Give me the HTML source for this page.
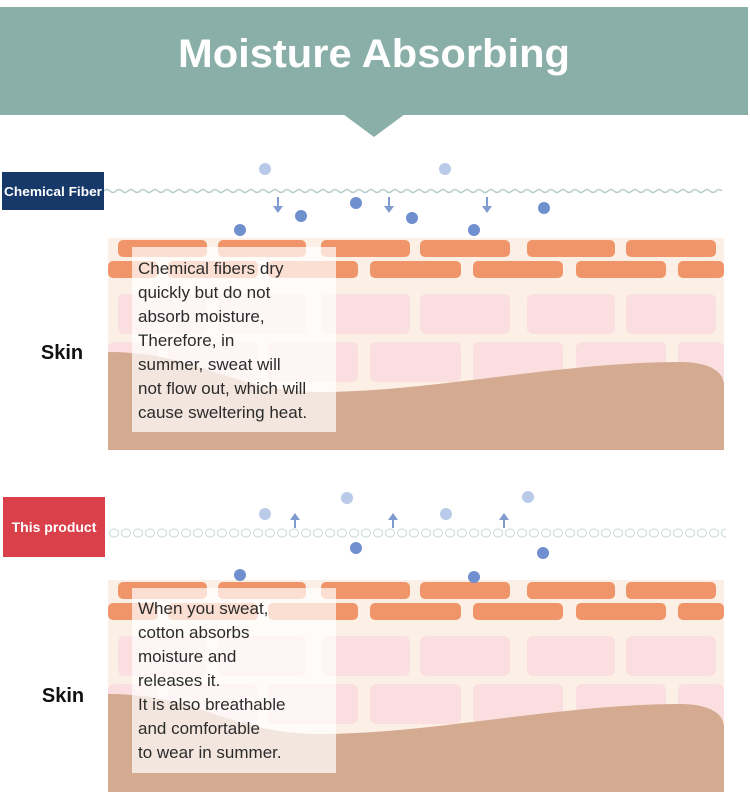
<!DOCTYPE html>
<html><head><meta charset="utf-8"><style>
html,body{margin:0;padding:0;background:#fff;width:750px;height:807px;overflow:hidden}
svg{display:block}
</style></head><body>
<svg width="750" height="807" viewBox="0 0 750 807" xmlns="http://www.w3.org/2000/svg">
<defs>
<pattern id="chain" x="108" y="527" width="12" height="12" patternUnits="userSpaceOnUse">
<ellipse cx="6" cy="6" rx="4.5" ry="4" fill="none" stroke="#c6d8d8" stroke-width="1"/>
</pattern>
<g id="skin">
<rect x="108" y="238" width="616" height="212" fill="#fcf0e6"/>
<g fill="#fbdfe0">
<rect x="118" y="294" width="89" height="40" rx="6"/><rect x="218" y="294" width="88" height="40" rx="6"/><rect x="321" y="294" width="89" height="40" rx="6"/><rect x="420" y="294" width="90" height="40" rx="6"/><rect x="527" y="294" width="88" height="40" rx="6"/><rect x="626" y="294" width="90" height="40" rx="6"/>
<rect x="108" y="342" width="50" height="40" rx="6"/><rect x="168" y="342" width="90" height="40" rx="6"/><rect x="268" y="342" width="90" height="40" rx="6"/><rect x="370" y="342" width="91" height="40" rx="6"/><rect x="473" y="342" width="90" height="40" rx="6"/><rect x="576" y="342" width="90" height="40" rx="6"/><rect x="678" y="342" width="46" height="40" rx="6"/>
</g>
<g fill="#ef9569">
<rect x="118" y="240" width="89" height="17" rx="5"/><rect x="218" y="240" width="88" height="17" rx="5"/><rect x="321" y="240" width="89" height="17" rx="5"/><rect x="420" y="240" width="90" height="17" rx="5"/><rect x="527" y="240" width="88" height="17" rx="5"/><rect x="626" y="240" width="90" height="17" rx="5"/>
<rect x="108" y="261" width="50" height="17" rx="5"/><rect x="168" y="261" width="90" height="17" rx="5"/><rect x="268" y="261" width="90" height="17" rx="5"/><rect x="336" y="261" width="21" height="17" rx="5"/><rect x="370" y="261" width="91" height="17" rx="5"/><rect x="473" y="261" width="90" height="17" rx="5"/><rect x="576" y="261" width="90" height="17" rx="5"/><rect x="678" y="261" width="46" height="17" rx="5"/>
</g>
<path d="M108,352 C200,352 230,392 320,392 C430,392 560,362 680,362 C710,362 724,372 724,385 L724,450 L108,450 Z" fill="#d4aa90"/>
</g>
</defs>

<rect x="0" y="7" width="748" height="108" fill="#8aafa8"/>
<polygon points="343,114 405,114 374,137" fill="#8aafa8"/>
<text x="374" y="67" text-anchor="middle" font-family="Liberation Sans, sans-serif" font-weight="bold" font-size="40" fill="#fff" textLength="392" lengthAdjust="spacingAndGlyphs">Moisture Absorbing</text>

<use href="#skin"/>
<path d="M104,191 q3,-3 6,0 t6,0 t6,0 t6,0 t6,0 t6,0 t6,0 t6,0 t6,0 t6,0 t6,0 t6,0 t6,0 t6,0 t6,0 t6,0 t6,0 t6,0 t6,0 t6,0 t6,0 t6,0 t6,0 t6,0 t6,0 t6,0 t6,0 t6,0 t6,0 t6,0 t6,0 t6,0 t6,0 t6,0 t6,0 t6,0 t6,0 t6,0 t6,0 t6,0 t6,0 t6,0 t6,0 t6,0 t6,0 t6,0 t6,0 t6,0 t6,0 t6,0 t6,0 t6,0 t6,0 t6,0 t6,0 t6,0 t6,0 t6,0 t6,0 t6,0 t6,0 t6,0 t6,0 t6,0 t6,0 t6,0 t6,0 t6,0 t6,0 t6,0 t6,0 t6,0 t6,0 t6,0 t6,0 t6,0 t6,0 t6,0 t6,0 t6,0 t6,0 t6,0 t6,0 t6,0 t6,0 t6,0 t6,0 t6,0 t6,0 t6,0 t6,0 t6,0 t6,0 t6,0 t6,0 t6,0 t6,0 t6,0 t6,0 t6,0 t6,0 t6,0 t6,0" fill="none" stroke="#b5cccc" stroke-width="1.5"/>
<rect x="2" y="172" width="102" height="38" fill="#17396a"/>
<text x="53" y="196" text-anchor="middle" font-family="Liberation Sans, sans-serif" font-weight="bold" font-size="13" fill="#fff" textLength="98" lengthAdjust="spacingAndGlyphs">Chemical Fiber</text>
<g fill="#b9cbe8"><circle cx="265" cy="169" r="6"/><circle cx="445" cy="169" r="6"/></g>
<g fill="#6f8fcf"><circle cx="301" cy="216" r="6"/><circle cx="356" cy="203" r="6"/><circle cx="412" cy="218" r="6"/><circle cx="544" cy="208" r="6"/><circle cx="240" cy="230" r="6"/><circle cx="474" cy="230" r="6"/></g>
<g stroke="#7f9bd0" stroke-width="2" fill="#7f9bd0">
<line x1="278" y1="197" x2="278" y2="208"/><polygon points="273,206 283,206 278,213" stroke="none"/>
<line x1="389" y1="197" x2="389" y2="208"/><polygon points="384,206 394,206 389,213" stroke="none"/>
<line x1="487" y1="197" x2="487" y2="208"/><polygon points="482,206 492,206 487,213" stroke="none"/>
</g>
<rect x="132" y="247" width="204" height="185" fill="#fff" fill-opacity="0.7"/>
<g font-family="Liberation Sans, sans-serif" font-size="17" fill="#2b2b2b">
<text x="138" y="274">Chemical fibers dry</text>
<text x="138" y="298">quickly but do not</text>
<text x="138" y="322">absorb moisture,</text>
<text x="138" y="346">Therefore, in</text>
<text x="138" y="370">summer, sweat will</text>
<text x="138" y="394">not flow out, which will</text>
<text x="138" y="418">cause sweltering heat.</text>
</g>
<text x="62" y="359" text-anchor="middle" font-family="Liberation Sans, sans-serif" font-weight="bold" font-size="20" fill="#111">Skin</text>

<use href="#skin" transform="translate(0,342)"/>
<rect x="108" y="527" width="618" height="12" fill="url(#chain)"/>
<rect x="3" y="497" width="102" height="60" fill="#d9404a"/>
<text x="54" y="532" text-anchor="middle" font-family="Liberation Sans, sans-serif" font-weight="bold" font-size="14" fill="#fff">This product</text>
<g fill="#b9cbe8"><circle cx="265" cy="514" r="6"/><circle cx="347" cy="498" r="6"/><circle cx="446" cy="514" r="6"/><circle cx="528" cy="497" r="6"/></g>
<g fill="#6f8fcf"><circle cx="356" cy="548" r="6"/><circle cx="543" cy="553" r="6"/><circle cx="240" cy="575" r="6"/><circle cx="474" cy="577" r="6"/></g>
<g stroke="#7f9bd0" stroke-width="2" fill="#7f9bd0">
<line x1="295" y1="518" x2="295" y2="528"/><polygon points="290,520 300,520 295,513" stroke="none"/>
<line x1="393" y1="518" x2="393" y2="528"/><polygon points="388,520 398,520 393,513" stroke="none"/>
<line x1="504" y1="518" x2="504" y2="528"/><polygon points="499,520 509,520 504,513" stroke="none"/>
</g>
<rect x="132" y="588" width="204" height="185" fill="#fff" fill-opacity="0.7"/>
<g font-family="Liberation Sans, sans-serif" font-size="17" fill="#2b2b2b">
<text x="138" y="614">When you sweat,</text>
<text x="138" y="638">cotton absorbs</text>
<text x="138" y="662">moisture and</text>
<text x="138" y="686">releases it.</text>
<text x="138" y="710">It is also breathable</text>
<text x="138" y="734">and comfortable</text>
<text x="138" y="758">to wear in summer.</text>
</g>
<text x="63" y="702" text-anchor="middle" font-family="Liberation Sans, sans-serif" font-weight="bold" font-size="20" fill="#111">Skin</text>
</svg>
</body></html>
